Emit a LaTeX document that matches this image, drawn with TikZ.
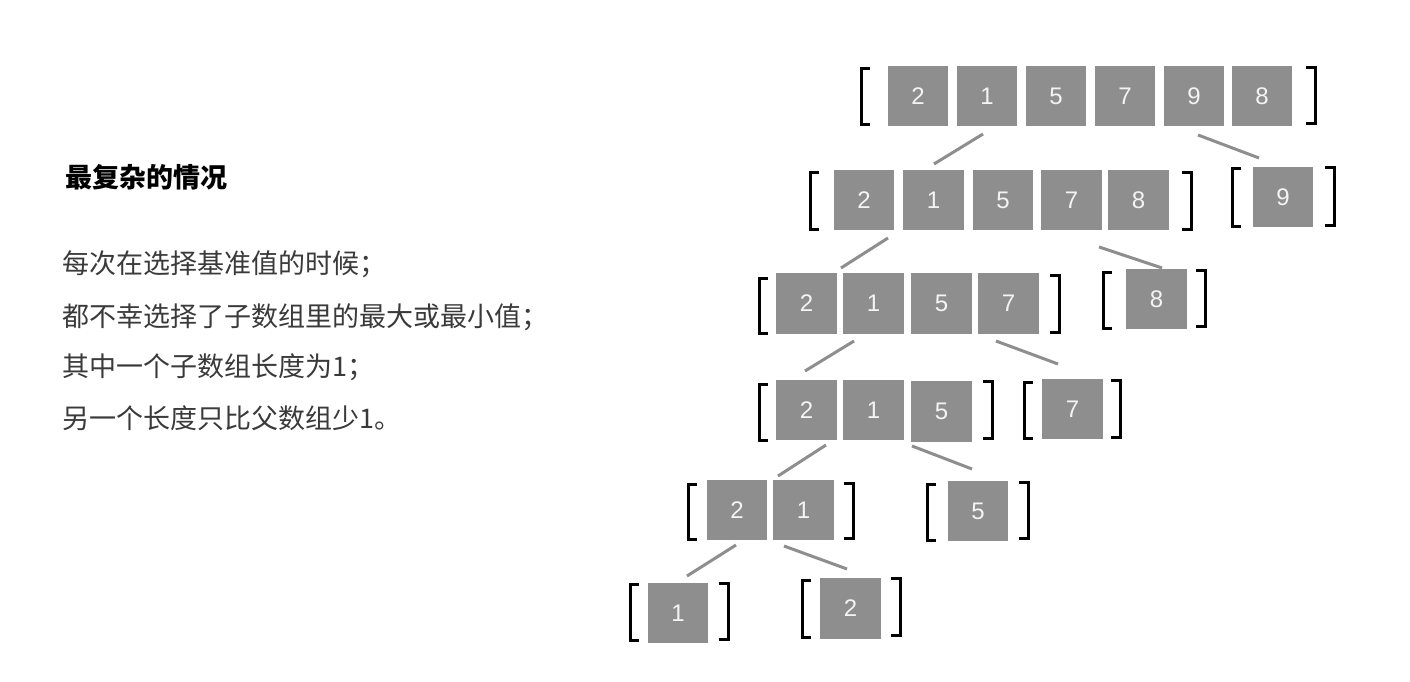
\documentclass[tikz,border=0pt]{standalone}
\usepackage{fontspec}
\setmainfont{Liberation Sans}
\newfontfamily\cjk{Noto Sans CJK SC}
\begin{document}
\begin{tikzpicture}[x=1pt,y=-1pt,
  cell/.style={fill=cellgray,draw=none,minimum size=60.5pt,inner sep=0pt,
    text=cellfg,font=\fontsize{24}{24}\selectfont},
  brk/.style={draw=black,line width=3pt,line cap=butt,line join=miter},
  conn/.style={draw=linegray,line width=3pt},
  txt/.style={anchor=west,inner sep=0pt,text=bodyfg,font=\cjk\fontsize{27}{27}\selectfont},
  ttl/.style={anchor=west,inner sep=0pt,text=black,font=\cjk\bfseries\fontsize{27}{27}\selectfont}]
\definecolor{cellgray}{HTML}{8E8E8E}
\definecolor{cellfg}{HTML}{F4F4F4}
\definecolor{linegray}{HTML}{8E8E8E}
\definecolor{bodyfg}{HTML}{3A3A3A}
\useasboundingbox[fill=white] (0,0) rectangle (1410,682);
% bracket macros: left [ at x, top, bottom; right ]
\newcommand{\lbr}[3]{\draw[brk] (#1+9,#2) -- (#1,#2) -- (#1,#3) -- (#1+9,#3);}
\newcommand{\rbr}[3]{\draw[brk] (#1-9,#2) -- (#1,#2) -- (#1,#3) -- (#1-9,#3);}

% text
\node[ttl] (title) at (65,177) {最复杂的情况};
\node[txt] (l1) at (62,264) {每次在选择基准值的时候；};
\node[txt] (l2) at (62,317) {都不幸选择了子数组里的最大或最小值；};
\node[txt] (l3) at (62,367) {其中一个子数组长度为1；};
\node[txt] (l4) at (62,418) {另一个长度只比父数组少1。};

% row 1
\node[cell] (a1) at (918,96) {2};
\node[cell] (a2) at (987,96) {1};
\node[cell] (a3) at (1056,96) {5};
\node[cell] (a4) at (1125,96) {7};
\node[cell] (a5) at (1194,96) {9};
\node[cell] (a6) at (1262,96) {8};
\lbr{861}{69}{125}
\rbr{1315}{68}{124}

% row 2
\node[cell] (b1) at (864,200) {2};
\node[cell] (b2) at (933.5,200) {1};
\node[cell] (b3) at (1003,200) {5};
\node[cell] (b4) at (1071.5,200) {7};
\node[cell] (b5) at (1138.5,200) {8};
\lbr{810}{172}{229}
\rbr{1191}{172}{229}
\node[cell] (b6) at (1283,197) {9};
\lbr{1232}{168}{226}
\rbr{1334}{167}{225}

% row 3
\node[cell] (c1) at (806.5,303.5) {2};
\node[cell] (c2) at (873.5,303.5) {1};
\node[cell] (c3) at (941.5,303.5) {5};
\node[cell] (c4) at (1008.5,303.5) {7};
\lbr{759}{278}{333}
\rbr{1059}{275}{332}
\node[cell] (c5) at (1156.5,299) {8};
\lbr{1103}{272}{328}
\rbr{1205}{270}{326}

% row 4
\node[cell] (d1) at (806.5,410) {2};
\node[cell] (d2) at (873.5,410) {1};
\node[cell] (d3) at (941.5,411.5) {5};
\lbr{759}{384}{440}
\rbr{992}{381}{438}
\node[cell] (d4) at (1072.5,409) {7};
\lbr{1024}{382}{438}
\rbr{1120}{380}{437}

% row 5
\node[cell] (e1) at (737,510) {2};
\node[cell] (e2) at (803.5,510) {1};
\lbr{688}{484}{539}
\rbr{853}{483}{538}
\node[cell] (e3) at (978,511) {5};
\lbr{927}{484}{540}
\rbr{1028}{482}{538}

% row 6
\node[cell] (f1) at (678,613) {1};
\lbr{630}{584}{640}
\rbr{728}{583}{639}
\node[cell] (f2) at (850.5,608.5) {2};
\lbr{802}{580}{637}
\rbr{900}{578}{635}

% connector end points
\coordinate (k1a) at (983,134);  \coordinate (k1b) at (934,164);
\coordinate (k2a) at (1198,135); \coordinate (k2b) at (1259,158);
\coordinate (k3a) at (888,238);  \coordinate (k3b) at (841,268);
\coordinate (k4a) at (1099,247); \coordinate (k4b) at (1162,268);
\coordinate (k5a) at (854,341);  \coordinate (k5b) at (805,371);
\coordinate (k6a) at (996,341);  \coordinate (k6b) at (1058,364);
\coordinate (k7a) at (826,445);  \coordinate (k7b) at (778,476);
\coordinate (k8a) at (912,446);  \coordinate (k8b) at (972,469);
\coordinate (k9a) at (736,545);  \coordinate (k9b) at (687,576);
\coordinate (k10a) at (784,546); \coordinate (k10b) at (847,569);
\foreach \i in {1,...,10} {\draw[conn] (k\i a) -- (k\i b);}
\end{tikzpicture}
\end{document}
